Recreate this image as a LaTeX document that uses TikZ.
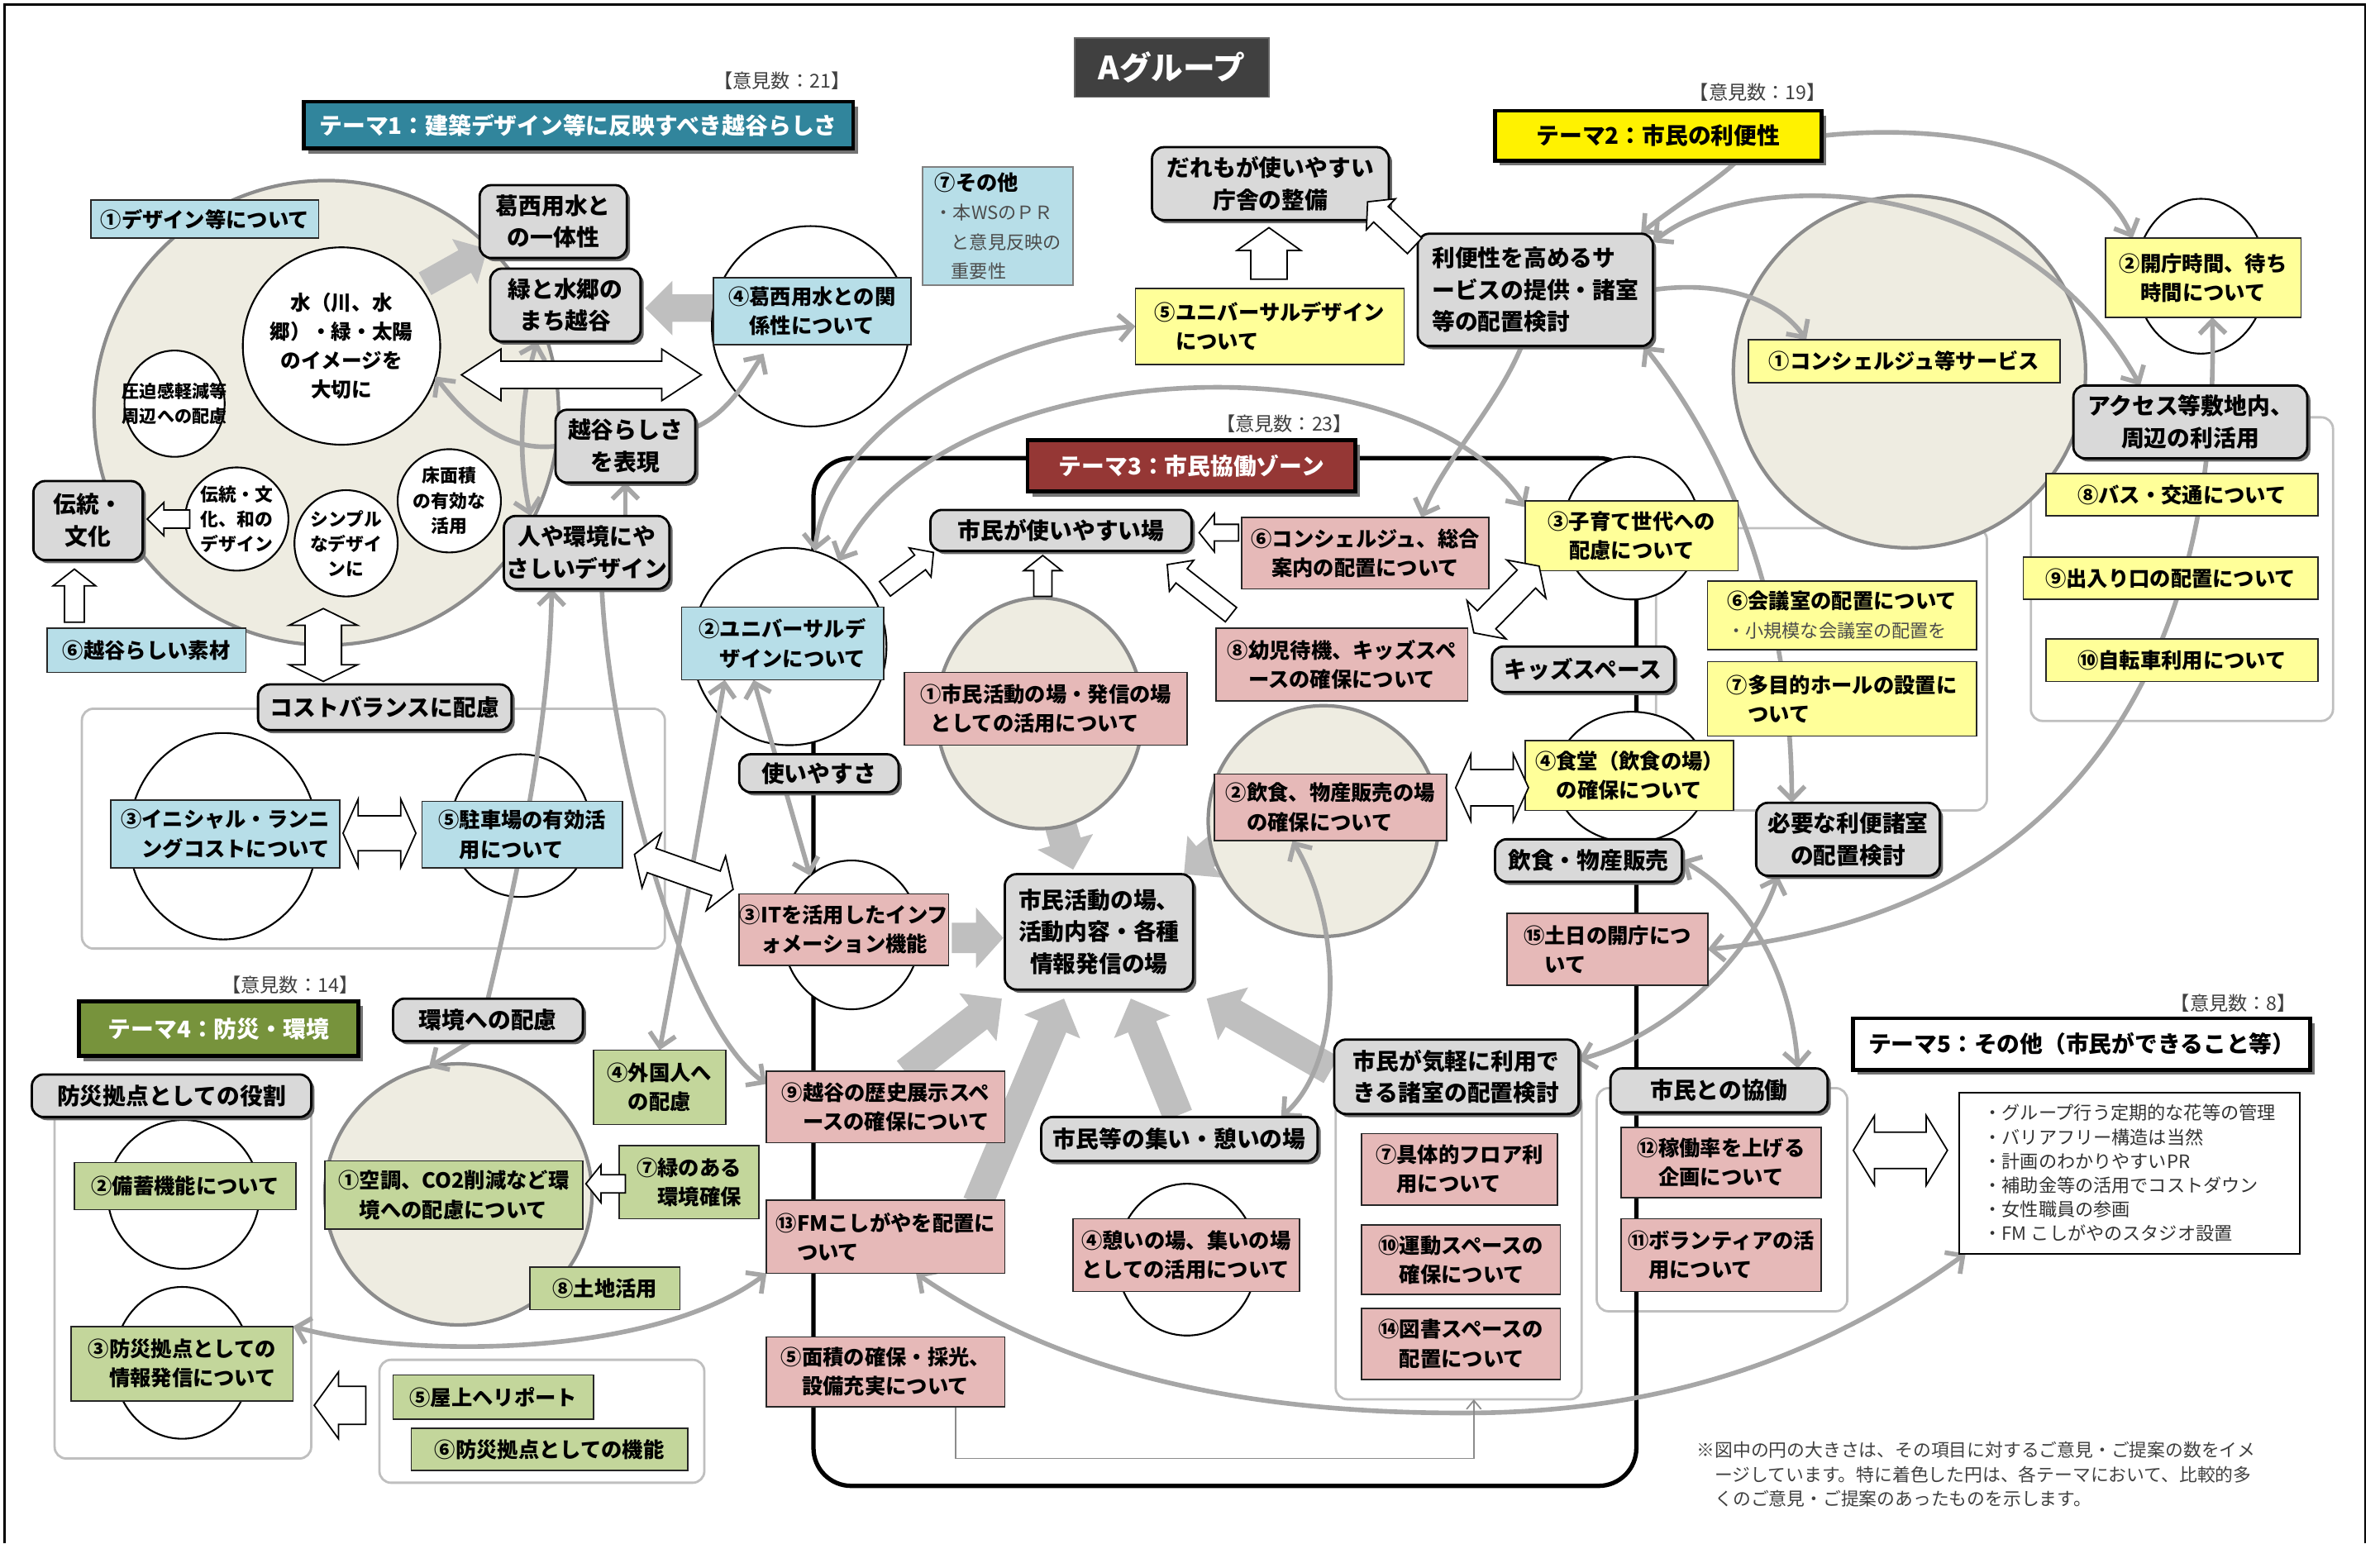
\documentclass[tikz,border=0pt]{standalone}
\usepackage{fontspec}
\setmainfont{Noto Sans CJK JP}
\usetikzlibrary{shapes.geometric,arrows.meta,shadows,calc}
\definecolor{conngray}{HTML}{A6A6A6}
\definecolor{arrgray}{HTML}{BFBFBF}
\definecolor{grpgray}{HTML}{BFBFBF}
\definecolor{boxgray}{HTML}{D9D9D9}
\definecolor{beige}{HTML}{EEECE1}
\definecolor{circgray}{HTML}{8C8C8C}
\definecolor{lblue}{HTML}{B7DEE8}
\definecolor{lyellow}{HTML}{FFFF99}
\definecolor{lpink}{HTML}{E6B9B8}
\definecolor{lgreen}{HTML}{C3D69B}
\definecolor{teal1}{HTML}{31859C}
\definecolor{darkred}{HTML}{953735}
\definecolor{olive1}{HTML}{77933C}
\definecolor{titlegray}{HTML}{404040}
\pgfdeclarelayer{L1}\pgfdeclarelayer{L2}\pgfdeclarelayer{L3}\pgfdeclarelayer{L4}
\pgfsetlayers{L1,L2,L3,L4,main}
\newcommand\myfs[2]{\fontsize{#1pt}{#2pt}\selectfont}
\newcommand\smt{\mdseries\myfs{6.3}{9}\color{black!70}}
\newcommand\mybox[7]{\node[#6,minimum width={(#4-#2)*0.5224pt},minimum height={(#5-#3)*0.5224pt}] (#1) at ({(#2+#4)/2},{-(#3+#5)/2}) {#7};}
\newcommand\myell[6]{\node[#6,minimum width={2*#4*0.5224pt},minimum height={2*#5*0.5224pt}] (#1) at (#2,-#3) {};}
\newcommand\blkprep[7]{%
 \pgfmathsetmacro\blkdx{#3-#1}\pgfmathsetmacro\blkdy{#2-#4}%
 \pgfmathsetmacro\blklen{veclen(\blkdx,\blkdy)}%
 \pgfmathsetmacro\blkang{atan2(\blkdy,\blkdx)}%
 \pgfmathsetmacro\blkhw{#5/2}\pgfmathsetmacro\blkhs{#6/2}\pgfmathsetmacro\blkbase{\blklen-#7}}
\newcommand\myarrS[8]{\blkprep{#1}{#2}{#3}{#4}{#5}{#6}{#7}%
 \path[#8,shift={(#1,-#2)},rotate=\blkang] (0,\blkhs) -- (\blkbase,\blkhs) -- (\blkbase,\blkhw) -- (\blklen,0) -- (\blkbase,-\blkhw) -- (\blkbase,-\blkhs) -- (0,-\blkhs) -- cycle;}
\newcommand\myarrD[8]{\blkprep{#1}{#2}{#3}{#4}{#5}{#6}{#7}%
 \path[#8,shift={(#1,-#2)},rotate=\blkang] (0,0) -- (#7,\blkhw) -- (#7,\blkhs) -- (\blkbase,\blkhs) -- (\blkbase,\blkhw) -- (\blklen,0) -- (\blkbase,-\blkhw) -- (\blkbase,-\blkhs) -- (#7,-\blkhs) -- (#7,-\blkhw) -- cycle;}
\tikzset{
 lbl/.style={align=center,font=\myfs{7.2}{10}\bfseries,text=black},
 cb/.style={lbl,draw=black!85,line width=0.5pt},
 bbx/.style={cb,fill=lblue},
 ybx/.style={cb,fill=lyellow},
 pbx/.style={cb,fill=lpink},
 gbx/.style={cb,fill=lgreen},
 grb/.style={lbl,font=\myfs{7.9}{11}\bfseries,draw=black,line width=0.8pt,fill=boxgray,rounded corners=4pt,drop shadow={shadow xshift=1.1pt,shadow yshift=-1.1pt,fill=black!60,opacity=1}},
 hdr/.style={lbl,font=\myfs{7.9}{10}\bfseries,draw=black,line width=1.4pt,drop shadow={shadow xshift=1.6pt,shadow yshift=-1.6pt,fill=black!55,opacity=1}},
 grp/.style={draw=grpgray,line width=0.8pt,rounded corners=4pt},
 wc/.style={ellipse,draw=black,line width=0.6pt,fill=white},
 bc/.style={ellipse,draw=circgray,line width=1.2pt,fill=beige},
 ct/.style={align=center,font=\myfs{6.2}{8.6}\bfseries},
 conn/.style={draw=conngray,line width=1.6pt,>={Straight Barb[length=4.5pt,width=9pt]}},
 thinconn/.style={draw=black!45,line width=0.5pt,-{Straight Barb[length=3pt,width=5pt]}},
 wsa/.style={draw=black,line width=0.5pt,fill=white,line join=miter},
 gsa/.style={fill=arrgray},
 cnt/.style={anchor=east,font=\myfs{6.6}{8},text=black!75},
}
\begin{document}
\begin{tikzpicture}[x=0.01836cm,y=0.01836cm,every node/.style={inner sep=0pt,outer sep=0pt}]
\useasboundingbox (0,0) rectangle (1568,-1017);
\draw[line width=0.6pt] (3,-1017) -- (3,-3) -- (1558,-3) -- (1558,-1017);

\begin{pgfonlayer}{L1}
\mybox{grp1}{54}{467}{438}{625}{grp}{}
\mybox{grp2a}{1338}{275}{1537}{475}{grp}{}
\mybox{grp2b}{1091}{348}{1309}{534}{grp}{}
\mybox{grp3}{880}{720}{1042}{922}{grp}{}
\mybox{grp4}{36}{722}{205}{961}{grp}{}
\mybox{grp4b}{250}{896}{464}{977}{grp}{}
\mybox{grp5}{1052}{717}{1217}{864}{grp}{}
\mybox{frame3}{536}{302}{1078}{979}{draw=black,line width=1.5pt,rounded corners=13pt}{}
\myell{bigc1}{215}{272}{153}{153}{bc}
\myell{bigc2}{1258}{245}{116}{116}{bc}
\end{pgfonlayer}

\begin{pgfonlayer}{L2}
\myarrS{280}{187}{321}{164}{34}{17}{17}{gsa}
\myarrS{470}{203}{425}{203}{36}{18}{18}{gsa}
\myarrS{694}{527}{707}{573}{38}{21}{19}{gsa}
\myarrS{810}{551}{780}{576}{36}{18}{18}{gsa}
\myarrS{627}{618}{661}{618}{40}{20}{18}{gsa}
\myarrS{597}{707}{660}{658}{40}{20}{20}{gsa}
\myarrS{644}{793}{701}{658}{40}{20}{20}{gsa}
\myarrS{776}{735}{745}{658}{40}{20}{20}{gsa}
\myarrS{877}{705}{795}{658}{40}{20}{20}{gsa}
\end{pgfonlayer}

\begin{pgfonlayer}{L3}
\myell{waterc}{225}{228}{65}{65}{wc}
\myell{cappaku}{115}{266}{33}{35}{wc}
\myell{cdento}{156}{342}{34}{34}{wc}
\myell{csimple}{228}{358}{34}{35}{wc}
\myell{cyuka}{296}{330}{34}{34}{wc}
\myell{c4}{534}{215}{65}{66}{wc}
\myell{c3}{147}{551}{62}{68}{wc}
\myell{c5}{343}{544}{46}{47}{wc}
\myell{c2k}{1450}{182}{43}{51}{wc}
\myell{c3k}{1075}{348}{45}{47}{wc}
\myell{c4k}{1075}{512}{50}{43}{wc}
\myell{cu2}{520}{426}{64}{65}{wc}
\myell{c3it}{561}{616}{45}{49}{wc}
\myell{c1p}{685}{470}{68}{76}{bc}
\myell{c2p}{872}{541}{76}{76}{bc}
\myell{c4p}{782}{830}{46}{50}{wc}
\myell{c2g}{121}{787}{50}{49}{wc}
\myell{c3g}{120}{898}{45}{50}{wc}
\myell{c1g}{302}{787}{88}{86}{bc}
\node[ct,font=\myfs{7}{10}\bfseries] (waterct) at (waterc) {水（川、水\\郷）・緑・太陽\\のイメージを\\大切に};
\node[ct,font=\myfs{6}{8.6}\bfseries] (appakut) at (cappaku) {圧迫感軽減等\\周辺への配慮};
\node[ct] (dentot) at (cdento) {伝統・文\\化、和の\\デザイン};
\node[ct] (simplet) at (csimple) {シンプル\\なデザイ\\ンに};
\node[ct] (yukat) at (cyuka) {床面積\\の有効な\\活用};
\end{pgfonlayer}

% titles and headers
\mybox{title}{708}{25}{836}{64}{draw=black!60,line width=0.5pt,fill=titlegray,text=white,font=\myfs{11}{13}\bfseries}{Aグループ}
\mybox{hdr1}{200}{67}{562}{98}{hdr,fill=teal1,text=white}{テーマ1：建築デザイン等に反映すべき越谷らしさ}
\mybox{hdr2}{985}{73}{1200}{106}{hdr,fill=yellow}{テーマ2：市民の利便性}
\mybox{hdr3}{677}{290}{893}{324}{hdr,fill=darkred,text=white}{テーマ3：市民協働ゾーン}
\mybox{hdr4}{52}{660}{236}{696}{hdr,fill=olive1,text=white}{テーマ4：防災・環境}
\mybox{hdr5}{1221}{671}{1522}{705}{hdr,fill=white}{テーマ5：その他（市民ができること等）}
\node[cnt] (n21) at (560,-53) {【意見数：21】};
\node[cnt] (n19) at (1203,-61) {【意見数：19】};
\node[cnt] (n23) at (891,-279) {【意見数：23】};
\node[cnt] (n14) at (236,-649) {【意見数：14】};
\node[cnt] (n8) at (1513,-661) {【意見数：8】};

% theme 1
\mybox{d1}{60}{132}{210}{157}{bbx}{①デザイン等について}
\mybox{kasai1}{316}{122}{413}{170}{grb}{葛西用水と\\の一体性}
\mybox{midori}{323}{177}{422}{225}{grb}{緑と水郷の\\まち越谷}
\mybox{koshi}{366}{270}{458}{318}{grb}{越谷らしさ\\を表現}
\mybox{hito}{332}{340}{441}{388}{grb}{人や環境にや\\さしいデザイン}
\mybox{dento}{22}{317}{94}{369}{grb}{伝統・\\文化}
\mybox{d6}{31}{414}{162}{443}{bbx}{⑥越谷らしい素材}
\mybox{cost}{170}{451}{337}{481}{grb}{コストバランスに配慮}
\mybox{d3}{73}{527}{224}{572}{bbx,align=left}{③イニシャル・ランニ\\\hspace*{1em}ングコストについて}
\mybox{d5}{278}{528}{410}{572}{bbx,align=left}{⑤駐車場の有効活\\\hspace*{1em}用について}
\mybox{d4}{470}{183}{600}{227}{bbx,align=left}{④葛西用水との関\\\hspace*{1em}係性について}
\mybox{d7}{608}{110}{707}{188}{bbx,align=left,draw=black!50}{⑦その他\\\smt ・本WSのＰＲ\\\smt\hspace*{0.9em}と意見反映の\\\smt\hspace*{0.9em}重要性}

% theme 2
\mybox{dare}{759}{97}{915}{145}{grb}{だれもが使いやすい\\庁舎の整備}
\mybox{u5}{748}{190}{925}{240}{ybx,align=left}{⑤ユニバーサルデザイン\\\hspace*{1em}について}
\mybox{riben}{934}{154}{1089}{228}{grb,align=left}{利便性を高めるサ\\ービスの提供・諸室\\等の配置検討}
\mybox{k1}{1152}{224}{1357}{252}{ybx}{①コンシェルジュ等サービス}
\mybox{k2}{1387}{157}{1516}{209}{ybx}{②開庁時間、待ち\\時間について}
\mybox{access}{1366}{254}{1520}{302}{grb}{アクセス等敷地内、\\周辺の利活用}
\mybox{k8}{1348}{312}{1527}{340}{ybx}{⑧バス・交通について}
\mybox{k9}{1333}{367}{1527}{395}{ybx}{⑨出入り口の配置について}
\mybox{k10}{1348}{421}{1527}{449}{ybx}{⑩自転車利用について}
\mybox{k3}{1005}{330}{1145}{376}{ybx}{③子育て世代への\\配慮について}
\mybox{k6}{1125}{383}{1302}{428}{ybx,align=left}{⑥会議室の配置について\\\smt ・小規模な会議室の配置を}
\mybox{k7}{1125}{436}{1302}{485}{ybx,align=left}{⑦多目的ホールの設置に\\\hspace*{1em}ついて}
\mybox{hitsuyo}{1157}{529}{1278}{577}{grb}{必要な利便諸室\\の配置検討}
\mybox{kids}{983}{426}{1103}{456}{grb}{キッズスペース}
\mybox{k4}{1005}{488}{1142}{534}{ybx}{④食堂（飲食の場）\\の確保について}
\mybox{inshoku}{985}{553}{1108}{581}{grb}{飲食・物産販売}
\mybox{p15}{993}{602}{1125}{649}{pbx,align=left}{⑮土日の開庁につ\\\hspace*{1em}いて}

% theme 3
\mybox{tsukai}{613}{336}{785}{363}{grb}{市民が使いやすい場}
\mybox{p6}{818}{341}{981}{388}{pbx}{⑥コンシェルジュ、総合\\案内の配置について}
\mybox{p1}{596}{443}{782}{491}{pbx,align=left}{①市民活動の場・発信の場\\\hspace*{0.5em}としての活用について}
\mybox{p8}{801}{414}{967}{462}{pbx,align=left}{⑧幼児待機、キッズスペ\\\hspace*{1em}ースの確保について}
\mybox{p2}{800}{510}{953}{554}{pbx,align=left}{②飲食、物産販売の場\\\hspace*{1em}の確保について}
\mybox{u2}{449}{400}{582}{448}{bbx,align=left}{②ユニバーサルデ\\\hspace*{1em}ザインについて}
\mybox{usage}{487}{497}{592}{522}{grb}{使いやすさ}
\mybox{p3}{487}{589}{625}{636}{pbx,align=left}{③ITを活用したインフ\\\hspace*{1em}ォメーション機能}
\mybox{hub}{662}{576}{786}{652}{grb}{市民活動の場、\\活動内容・各種\\情報発信の場}
\mybox{tsudoi}{686}{736}{868}{765}{grb}{市民等の集い・憩いの場}
\mybox{p4}{707}{803}{856}{851}{pbx,align=left}{④憩いの場、集いの場\\としての活用について}
\mybox{p9}{505}{706}{662}{753}{pbx,align=left}{⑨越谷の歴史展示スペ\\\hspace*{1em}ースの確保について}
\mybox{p13}{505}{791}{662}{839}{pbx,align=left}{⑬FMこしがやを配置に\\\hspace*{1em}ついて}
\mybox{p5}{505}{881}{662}{927}{pbx,align=left}{⑤面積の確保・採光、\\\hspace*{1em}設備充実について}
\mybox{kigaru}{879}{685}{1040}{734}{grb,align=left}{市民が気軽に利用で\\きる諸室の配置検討}
\mybox{p7}{897}{747}{1026}{794}{pbx,align=left}{⑦具体的フロア利\\\hspace*{1em}用について}
\mybox{p10}{897}{807}{1028}{853}{pbx,align=left}{⑩運動スペースの\\\hspace*{1em}確保について}
\mybox{p14}{897}{862}{1028}{909}{pbx,align=left}{⑭図書スペースの\\\hspace*{1em}配置について}

% theme 4
\mybox{kankyo}{259}{658}{384}{686}{grb}{環境への配慮}
\mybox{bousai}{21}{708}{205}{736}{grb}{防災拠点としての役割}
\mybox{g2}{49}{766}{195}{797}{gbx}{②備蓄機能について}
\mybox{g3}{47}{874}{193}{923}{gbx,align=left}{③防災拠点としての\\\hspace*{1em}情報発信について}
\mybox{g1}{214}{765}{384}{810}{gbx,align=left}{①空調、CO2削減など環\\\hspace*{1em}境への配慮について}
\mybox{g4}{391}{692}{478}{741}{gbx}{④外国人へ\\の配慮}
\mybox{g7}{408}{755}{500}{803}{gbx,align=left}{⑦緑のある\\\hspace*{1em}環境確保}
\mybox{g8}{349}{835}{448}{863}{gbx}{⑧土地活用}
\mybox{g5}{259}{906}{391}{935}{gbx}{⑤屋上ヘリポート}
\mybox{g6}{271}{941}{453}{969}{gbx}{⑥防災拠点としての機能}

% theme 5
\mybox{kyodo}{1061}{704}{1204}{733}{grb}{市民との協働}
\mybox{p12}{1068}{743}{1200}{789}{pbx,align=left}{⑫稼働率を上げる\\\hspace*{1em}企画について}
\mybox{p11}{1068}{803}{1200}{851}{pbx,align=left}{⑪ボランティアの活\\\hspace*{1em}用について}
\mybox{list5}{1291}{720}{1515}{826}{draw=black,line width=0.6pt,fill=white,align=left,font=\myfs{6.3}{8.3},text=black!80}{・グループ行う定期的な花等の管理\\・バリアフリー構造は当然\\・計画のわかりやすいPR\\・補助金等の活用でコストダウン\\・女性職員の参画\\・FM こしがやのスタジオ設置}
\node[anchor=north west,align=left,font=\myfs{6.2}{8.4},text=black!75] (note) at (1118,-950) {※図中の円の大きさは、その項目に対するご意見・ご提案の数をイメ\\\hspace*{1em}ージしています。特に着色した円は、各テーマにおいて、比較的多\\\hspace*{1em}くのご意見・ご提案のあったものを示します。};

% white block arrows
\myarrS{125}{342}{97}{342}{22}{12}{11}{wsa}
\myarrS{49}{410}{49}{375}{28}{13}{11}{wsa}
\myarrD{213}{401}{213}{449}{45}{24}{11}{wsa}
\myarrD{304}{247}{462}{247}{34}{18}{26}{wsa}
\myarrD{226}{549}{274}{549}{45}{23}{10}{wsa}
\myarrD{418}{563}{483}{586}{38}{17}{12}{wsa}
\myarrS{836}{184}{836}{150}{42}{24}{15}{wsa}
\myarrS{932}{162}{901}{133}{28}{14}{12}{wsa}
\myarrS{816}{351}{790}{351}{25}{11}{10}{wsa}
\myarrS{687}{393}{687}{366}{25}{12}{10}{wsa}
\myarrS{583}{388}{615}{364}{24}{12}{11}{wsa}
\myarrS{811}{405}{769}{372}{26}{12}{12}{wsa}
\myarrD{971}{417}{1014}{373}{36}{17}{12}{wsa}
\myarrD{959}{519}{1007}{519}{44}{24}{10}{wsa}
\myarrS{412}{780}{386}{780}{25}{12}{10}{wsa}
\myarrS{241}{926}{207}{926}{44}{25}{16}{wsa}
\myarrD{1221}{758}{1283}{758}{46}{24}{14}{wsa}

% connectors
\begin{pgfonlayer}{L4}
\draw[conn,->] (koshi.west) .. controls (330,-298) and (305,-272) .. (waterc.-18);
\draw[conn,<->] (midori.232) .. controls (343,-262) and (341,-300) .. (hito.147);
\draw[conn,->] (koshi.15) .. controls (480,-272) and (492,-250) .. ($(d4.south)+(-32,-6)$);
\draw[conn,->] (hito.north -| koshi.south) -- (koshi.south);
\draw[conn,->] (kankyo.north) .. controls (345,-560) and (362,-470) .. ($(hito.south)+(-23,0)$);
\draw[conn,->] ($(kankyo.south)+(-11,0)$) -- (c1g.103);
\draw[conn,->] ($(hito.south)+(10,0)$) .. controls (402,-500) and (450,-675) .. (p9.169);
\draw[conn,<->] ($(u2.south)+(-38,0)$) .. controls (463,-529) and (450,-611) .. (g4.north);
\draw[conn,<->] ($(u2.south)+(-19,0)$) -- (c3it.125);
\draw[conn,<->] (cu2.75) .. controls (545,-290) and (640,-225) .. (u5.west);
\draw[conn,<->] (cu2.60) .. controls (620,-230) and (930,-220) .. (k3.165);
\draw[conn,->] ($(riben.south)+(-9,0)$) .. controls (985,-270) and (950,-305) .. ($(p6.north)+(37,0)$);
\draw[conn,->] ($(hdr2.south)+(52,0)$) .. controls (1130,-120) and (1100,-138) .. (riben.28);
\draw[conn,->] (hdr2.east) .. controls (1290,-80) and (1380,-100) .. ($(k2.north west)+(18,0)$);
\draw[conn,<->] (riben.22) .. controls (1150,-110) and (1330,-110) .. ($(access.north)+(-33,0)$);
\draw[conn,->] (riben.east) .. controls (1130,-185) and (1170,-195) .. ($(k1.north west)+(38,0)$);
\draw[conn,<->] ($(riben.south east)+(-6,0)$) .. controls (1140,-300) and (1180,-400) .. ($(hitsuyo.north)+(-37,0)$);
\draw[conn,<->] ($(k2.south)+(6,0)$) .. controls (1462,-420) and (1380,-600) .. (p15.east);
\draw[conn,<->] (inshoku.east) .. controls (1150,-590) and (1180,-640) .. ($(kyodo.north)+(52,0)$);
\draw[conn,<->] ($(hitsuyo.south)+(-46,0)$) .. controls (1150,-640) and (1090,-685) .. (kigaru.8);
\draw[conn,<->] ($(p2.south)+(-25,0)$) .. controls (885,-610) and (885,-700) .. ($(tsudoi.north)+(67,0)$);
\draw[conn,<->] ($(p13.south)+(20,0)$) .. controls (700,-905) and (820,-932) .. (970,-931) .. controls (1120,-930) and (1220,-880) .. ($(list5.south west)+(4,0)$);
\draw[conn,<->] (g3.north east) .. controls (270,-895) and (430,-895) .. (p13.south west);
\draw[thinconn] ($(p5.south)+(46,0)$) -- ++(0,-34) -| ($(grp3.south)+(10,0)$);
\end{pgfonlayer}
\end{tikzpicture}
\end{document}
